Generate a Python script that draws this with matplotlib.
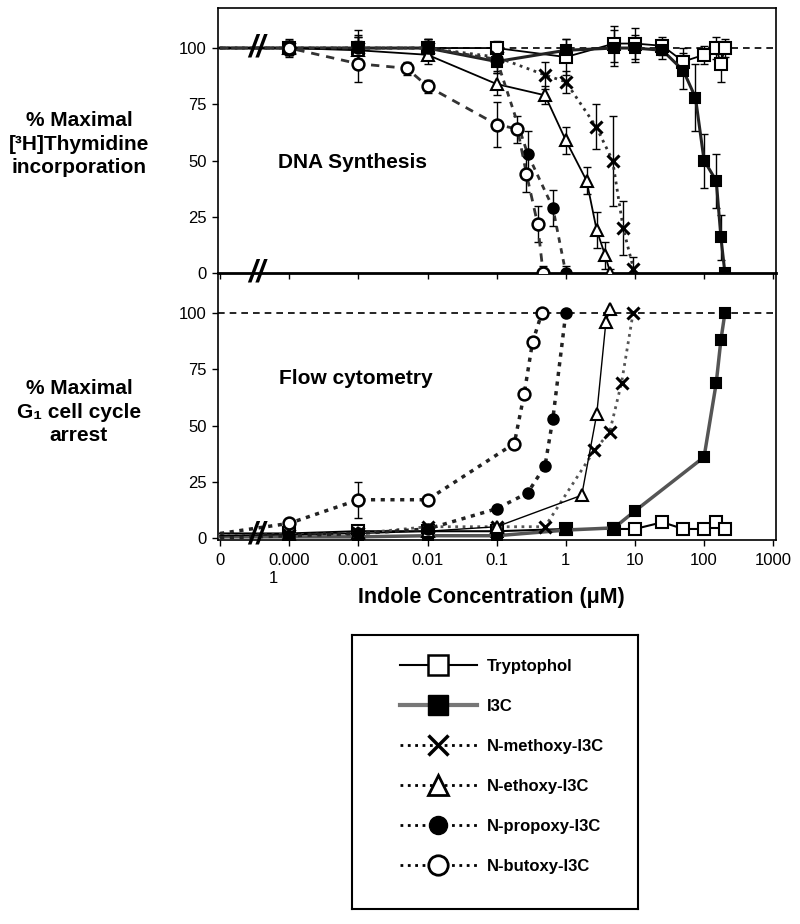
import matplotlib
matplotlib.use("Agg")
import matplotlib.pyplot as plt
import numpy as np
from matplotlib.lines import Line2D

plt.rcParams["font.family"] = ["Liberation Sans", "DejaVu Sans"]

ZERO_POS = -5.0  # "0" concentration is drawn one decade left of 0.0001

# ---- DNA synthesis panel ----
trp_dna_conc = [0, 0.0001, 0.001, 0.01, 0.1, 1, 5, 10, 25, 50, 100, 150, 175, 200]
trp_dna = [100, 100, 100, 100, 100, 96, 102, 102, 101, 94, 97, 100, 93, 100]
trp_dna_err = [0, 4, 6, 3, 3, 8, 8, 7, 4, 6, 4, 5, 8, 4]

i3c_dna_conc = [0, 0.0001, 0.001, 0.01, 0.1, 1, 5, 10, 25, 50, 75, 100, 150, 175, 200]
i3c_dna = [100, 100, 100, 100, 94, 99, 100, 100, 99, 90, 78, 50, 41, 16, 0]
i3c_dna_err = [0, 3, 8, 4, 5, 5, 8, 6, 4, 8, 15, 12, 12, 10, 2]

meth_dna_conc = [0, 0.0001, 0.001, 0.01, 0.1, 0.5, 1, 2.75, 4.75, 6.75, 9.5]
meth_dna = [100, 100, 100, 100, 96, 88, 85, 65, 50, 20, 2]
meth_dna_err = [0, 3, 5, 4, 4, 6, 5, 10, 20, 12, 5]

eth_dna_conc = [0, 0.0001, 0.001, 0.01, 0.1, 0.5, 1, 2, 2.8, 3.7, 4.4]
eth_dna = [100, 100, 99, 97, 84, 79, 59, 41, 19, 8, 0]
eth_dna_err = [0, 3, 4, 4, 5, 4, 6, 6, 8, 6, 2]

prop_dna_conc = [0, 0.0001, 0.001, 0.01, 0.1, 0.28, 0.65, 1]
prop_dna = [100, 100, 100, 100, 95, 53, 29, 0]
prop_dna_err = [0, 3, 5, 4, 5, 10, 8, 3]

but_dna_conc = [0, 0.0001, 0.001, 0.005, 0.01, 0.1, 0.2, 0.27, 0.39, 0.47]
but_dna = [100, 100, 93, 91, 83, 66, 64, 44, 22, 0]
but_dna_err = [0, 3, 8, 3, 3, 10, 6, 8, 8, 3]

# ---- Flow cytometry panel ----
trp_g1_conc = [0, 0.0001, 0.001, 0.01, 0.1, 1, 5, 10, 25, 50, 100, 150, 200]
trp_g1 = [2, 2, 3, 3, 3, 4, 4, 4, 7, 4, 4, 7, 4]

i3c_g1_conc = [0, 0.0001, 0.001, 0.01, 0.1, 1, 5, 10, 100, 150, 175, 200]
i3c_g1 = [0.5, 0.5, 0.5, 1, 1, 3.5, 4.5, 12, 36, 69, 88, 100]

meth_g1_conc = [0, 0.0001, 0.001, 0.01, 0.1, 0.5, 2.6, 4.3, 6.4, 9.4]
meth_g1 = [1, 1.5, 2, 5, 5, 5, 39, 47, 69, 100]

eth_g1_conc = [0, 0.0001, 0.001, 0.01, 0.1, 1.7, 2.8, 3.8, 4.4]
eth_g1 = [1, 1.5, 2, 3, 5, 19, 55, 96, 102]

prop_g1_conc = [0, 0.0001, 0.001, 0.01, 0.1, 0.28, 0.5, 0.65, 1]
prop_g1 = [0, 1, 2, 4, 13, 20, 32, 53, 100]

but_g1_conc = [0, 0.0001, 0.001, 0.01, 0.18, 0.25, 0.33, 0.45]
but_g1 = [2, 6.5, 17, 17, 42, 64, 87, 100]
but_g1_err = [0, 2, 8, 2, 0, 0, 0, 0]

tick_values = [0, 0.0001, 0.001, 0.01, 0.1, 1, 10, 100, 1000]
tick_labels = ["0", "0.000\n1", "0.001", "0.01", "0.1", "1", "10", "100", "1000"]
legend_names = ["Tryptophol", "I3C", "N-methoxy-I3C", "N-ethoxy-I3C",
                "N-propoxy-I3C", "N-butoxy-I3C"]


def xpos(conc):
    c = np.asarray(conc, dtype=float)
    return np.where(c > 0, np.log10(np.where(c > 0, c, 1.0)), ZERO_POS)


MARK = {
    "trp": dict(marker="s", mfc="white", mec="black", ms=8.5, mew=1.5),
    "i3c": dict(marker="s", mfc="black", mec="black", ms=7.5, mew=1.5),
    "meth": dict(marker="x", mfc="black", mec="black", ms=8.5, mew=2.2),
    "eth": dict(marker="^", mfc="white", mec="black", ms=8.5, mew=1.5),
    "prop": dict(marker="o", mfc="black", mec="black", ms=7.5, mew=1.5),
    "but": dict(marker="o", mfc="white", mec="black", ms=8.5, mew=1.8),
}


def draw(ax, key, c, v, e, st):
    x = xpos(c)
    if e is not None:
        ax.errorbar(x[1:], v[1:], yerr=e[1:], fmt="none", ecolor="black",
                    elinewidth=1, capsize=3, capthick=1, zorder=2)
    # the value at zero concentration is only the line start, no symbol
    ax.plot(x, v, markevery=slice(1, None), **MARK[key], **st, zorder=3)


fig = plt.figure(figsize=(8, 9.24), dpi=100)
L, R = 218 / 800, 776 / 800
ax1 = fig.add_axes([L, 1 - 273 / 924, R - L, 265 / 924])
ax2 = fig.add_axes([L, 1 - 540 / 924, R - L, 267 / 924])
ax2.patch.set_visible(False)

top_series = [
    ("trp", trp_dna_conc, trp_dna, trp_dna_err, dict(color="black", lw=1.3, ls="-")),
    ("i3c", i3c_dna_conc, i3c_dna, i3c_dna_err, dict(color="#222222", lw=2.2, ls="-")),
    ("meth", meth_dna_conc, meth_dna, meth_dna_err, dict(color="#333333", lw=2, ls=":")),
    ("eth", eth_dna_conc, eth_dna, eth_dna_err, dict(color="black", lw=1.3, ls="-")),
    ("prop", prop_dna_conc, prop_dna, prop_dna_err, dict(color="#333333", lw=2, ls=(0, (2, 2)))),
    ("but", but_dna_conc, but_dna, but_dna_err, dict(color="#333333", lw=2, ls=(0, (3, 2.5)))),
]
for key, c, v, e, st in top_series:
    draw(ax1, key, c, v, e, st)

bottom_series = [
    ("trp", trp_g1_conc, trp_g1, None, dict(color="black", lw=1.5, ls="-")),
    ("i3c", i3c_g1_conc, i3c_g1, None, dict(color="#555555", lw=2.5, ls="-")),
    ("meth", meth_g1_conc, meth_g1, None, dict(color="#555555", lw=2, ls=":")),
    ("eth", eth_g1_conc, eth_g1, None, dict(color="black", lw=1, ls="-")),
    ("prop", prop_g1_conc, prop_g1, None, dict(color="#222222", lw=2.5, ls=(0, (1.2, 1.6)))),
    ("but", but_g1_conc, but_g1, but_g1_err, dict(color="#222222", lw=2.5, ls=(0, (1.2, 1.6)))),
]
for key, c, v, e, st in bottom_series:
    draw(ax2, key, c, v, e, st)

for ax in (ax1, ax2):
    ax.axhline(100, color="black", lw=1.2, ls=(0, (4, 3)), zorder=1)
    ax.set_xlim(-5.03, 3.04)
    ax.set_xticks(xpos(tick_values))
    ax.set_yticks([0, 25, 50, 75, 100])
    ax.tick_params(axis="both", direction="out", length=4.5, width=1, labelsize=12)
    for s in ax.spines.values():
        s.set_linewidth(1.2)

ax1.set_ylim(0, 117.8)
ax2.set_ylim(-0.9, 117.8)
ax1.set_xticklabels([])
ax1.spines["bottom"].set_linewidth(2)
ax2.spines["top"].set_visible(False)
ax2.set_xticklabels(tick_labels, multialignment="left")
ax2.tick_params(axis="x", pad=5)

# axis breaks
for ax, yb in ((ax1, 100), (ax1, 0), (ax2, 1)):
    ax.text(-4.47, yb, "//", ha="center", va="center", fontsize=22,
            fontweight="bold", style="italic", zorder=5, clip_on=False)

ax1.text(-4.16, 49, "DNA Synthesis", ha="left", va="center", fontsize=15, fontweight="bold")
ax2.text(-4.15, 71, "Flow cytometry", ha="left", va="center", fontsize=15, fontweight="bold")

fig.text(79 / 800, 1 - 144 / 924, "% Maximal\n[³H]Thymidine\nincorporation",
         ha="center", va="center", fontsize=15, fontweight="bold", linespacing=1.3)
fig.text(79 / 800, 1 - 412 / 924, "% Maximal\nG₁ cell cycle\narrest",
         ha="center", va="center", fontsize=15, fontweight="bold", linespacing=1.3)
fig.text(491 / 800, 1 - 598 / 924, "Indole Concentration (μM)",
         ha="center", va="center", fontsize=15.5, fontweight="bold")

# legend box
lax = fig.add_axes([352 / 800, 1 - 909 / 924, 286 / 800, 274 / 924])
lax.set_xticks([])
lax.set_yticks([])
for s in lax.spines.values():
    s.set_linewidth(1.5)
handles = [
    Line2D([], [], color="black", lw=1.5, ls="-", marker="s", mfc="white", mec="black", ms=14, mew=1.8),
    Line2D([], [], color="#777777", lw=3, ls="-", marker="s", mfc="black", mec="black", ms=14),
    Line2D([], [], color="black", lw=2, ls=":", marker="x", mec="black", ms=14, mew=2.5),
    Line2D([], [], color="black", lw=2, ls=":", marker="^", mfc="white", mec="black", ms=14, mew=2),
    Line2D([], [], color="black", lw=2, ls=":", marker="o", mfc="black", mec="black", ms=13),
    Line2D([], [], color="black", lw=2, ls=":", marker="o", mfc="white", mec="black", ms=14, mew=2),
]
fig.legend(handles, legend_names, loc="upper left", bbox_to_anchor=(400 / 800, 1 - 659 / 924),
           frameon=False, borderpad=0, borderaxespad=0, handlelength=4.6,
           handletextpad=0.6, labelspacing=1.5, numpoints=1,
           prop={"weight": "bold", "size": 12})

fig.savefig("out.png", dpi=100)
